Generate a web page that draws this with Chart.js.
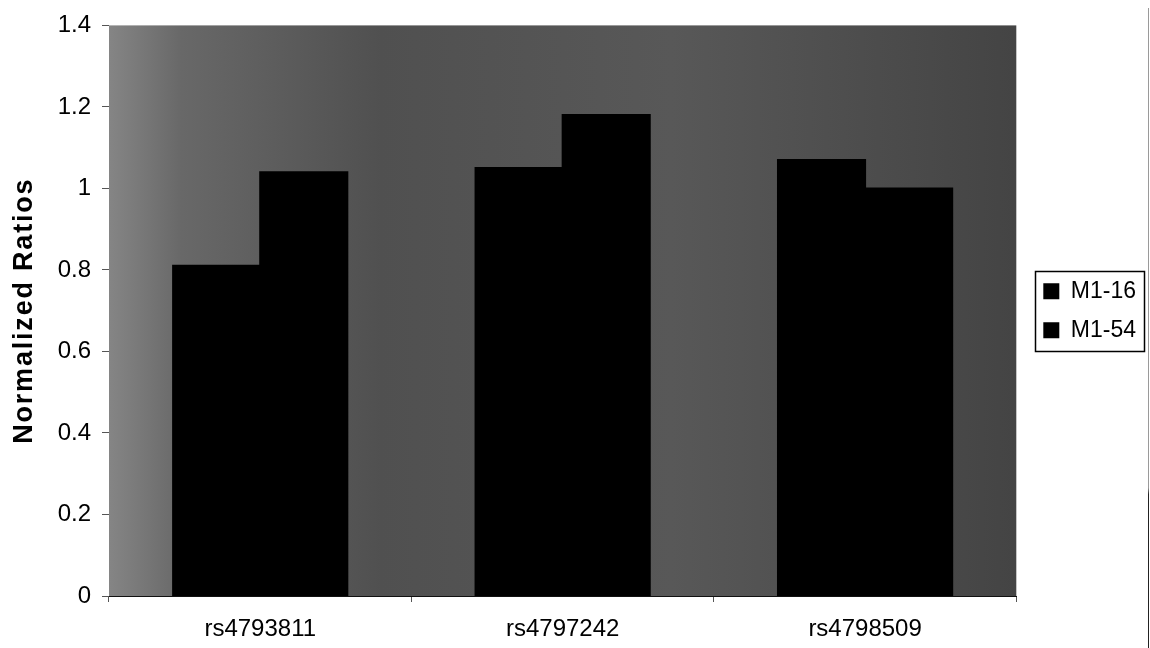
<!DOCTYPE html>
<html>
<head>
<meta charset="utf-8">
<script src="https://cdn.jsdelivr.net/npm/chart.js@4/dist/chart.umd.min.js"></script>
<style>
  html, body { margin: 0; padding: 0; background: #fff; }
  #wrap { position: relative; width: 1150px; height: 648px; }
  #edge { position: absolute; left: 1148px; top: 8px; width: 1px; height: 640px;
          background: linear-gradient(to bottom, #9a9a9a 0%, #9a9a9a 75%, #222 76%, #222 100%); }
</style>
</head>
<body>
<div id="wrap">
  <canvas id="c" width="1150" height="648"></canvas>
  <div id="edge"></div>
</div>
<script>
// Categories (SNP markers) and normalized ratios per sample
const categories = ['rs4793811', 'rs4797242', 'rs4798509'];
const seriesNames = ['M1-16', 'M1-54'];
const m1_16 = [0.81, 1.05, 1.07];
const m1_54 = [1.04, 1.18, 1.00];
const yTicks = [0, 0.2, 0.4, 0.6, 0.8, 1, 1.2, 1.4];

const FONT = "'Liberation Sans', Arial, sans-serif";
Chart.defaults.color = '#000';
Chart.defaults.font.family = FONT;

// Grey textured plot background
const plotBackground = {
  id: 'plotBackground',
  beforeDraw(chart) {
    const { ctx, chartArea: a } = chart;
    const g = ctx.createLinearGradient(a.left, 0, a.right, 0);
    g.addColorStop(0.00, '#858585');
    g.addColorStop(0.08, '#686868');
    g.addColorStop(0.30, '#505050');
    g.addColorStop(0.62, '#585858');
    g.addColorStop(1.00, '#444444');
    ctx.save();
    ctx.fillStyle = g;
    ctx.fillRect(a.left, a.top, a.right - a.left, a.bottom - a.top);
    ctx.restore();
  }
};

// Frame around the legend entries
const legendFrame = {
  id: 'legendFrame',
  afterDraw(chart) {
    const boxes = chart.legend && chart.legend.legendHitBoxes;
    if (!boxes || !boxes.length) return;
    const left = Math.min(...boxes.map(b => b.left)) - 8;
    const right = Math.max(...boxes.map(b => b.left + b.width)) + 8;
    const top = Math.min(...boxes.map(b => b.top)) - 9;
    const bottom = Math.max(...boxes.map(b => b.top + b.height)) + 9;
    const ctx = chart.ctx;
    ctx.save();
    ctx.strokeStyle = '#000';
    ctx.lineWidth = 1.5;
    ctx.strokeRect(Math.round(left) + 0.5, Math.round(top) + 0.5,
                   Math.round(right - left), Math.round(bottom - top));
    ctx.restore();
  }
};

new Chart(document.getElementById('c'), {
  type: 'bar',
  data: {
    labels: categories,
    datasets: [
      { label: seriesNames[0], data: m1_16, backgroundColor: '#000', borderWidth: 0, inflateAmount: 1 },
      { label: seriesNames[1], data: m1_54, backgroundColor: '#000', borderWidth: 0, inflateAmount: 1 }
    ]
  },
  options: {
    responsive: false,
    animation: false,
    devicePixelRatio: 1,
    layout: { padding: { left: 8, top: 24, right: 4, bottom: 0 } },
    datasets: { bar: { categoryPercentage: 0.576, barPercentage: 1.0 } },
    scales: {
      x: {
        grid: { offset: true, drawOnChartArea: false, tickLength: 6, color: '#555' },
        border: { display: true, color: '#111', width: 1 },
        ticks: { font: { size: 24 }, padding: 13 },
        afterFit(s) { s.height = 52; }
      },
      y: {
        min: 0, max: 1.4,
        afterBuildTicks(s) { s.ticks = yTicks.map(v => ({ value: v })); },
        grid: { drawOnChartArea: false, tickLength: 7, color: '#555' },
        border: { display: false },
        ticks: { font: { size: 24 }, padding: 11, callback: v => String(+v.toFixed(1)) },
        title: { display: true, text: 'Normalized Ratios', font: { size: 27, weight: 'bold' }, padding: 0 },
        afterFit(s) {
          s.width = 101;
          if (!s._spaced) {
            s._spaced = true;
            const drawTitle = s.drawTitle;
            s.drawTitle = function () {
              this.ctx.save();
              this.ctx.letterSpacing = '1.8px';
              drawTitle.apply(this, arguments);
              this.ctx.restore();
            };
          }
        }
      },
      gap: {
        type: 'linear', position: 'right', display: true,
        grid: { display: false }, border: { display: false },
        ticks: { display: false },
        afterFit(s) { s.width = 11; }
      }
    },
    plugins: {
      legend: {
        position: 'right',
        fullSize: false,
        align: 'center',
        labels: { boxWidth: 16, boxHeight: 16, padding: 16, font: { size: 23 }, color: '#000' }
      },
      tooltip: { enabled: false }
    }
  },
  plugins: [plotBackground, legendFrame]
});
</script>
</body>
</html>
